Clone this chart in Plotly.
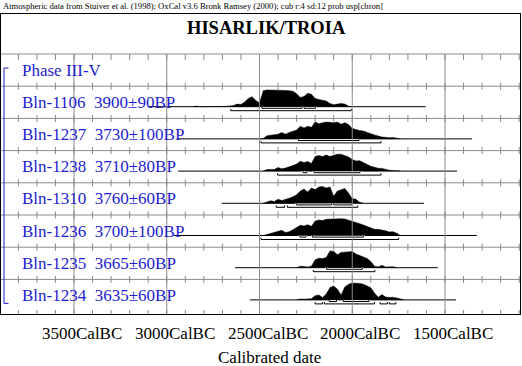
import plotly.graph_objects as go

# ---------------- data ----------------
header = "Atmospheric data from Stuiver et al. (1998); OxCal v3.6 Bronk Ramsey (2000); cub r:4 sd:12 prob usp[chron]"
title = "HISARLIK/TROIA"
phase_label = "Phase III-V"
sample_names = ["Bln-1106", "Bln-1237", "Bln-1238", "Bln-1310", "Bln-1236", "Bln-1235", "Bln-1234"]
sample_bp = ["3900±90BP", "3730±100BP", "3710±80BP", "3760±60BP", "3700±100BP", "3665±60BP", "3635±60BP"]

tick_years_bc = [3500, 3000, 2500, 2000, 1500]
tick_labels = ["3500CalBC", "3000CalBC", "2500CalBC", "2000CalBC", "1500CalBC"]
minor_step = 100
axis_title = "Calibrated date"

# calibrated extent of each sample (years BC)
extent_from = [3100, 2946, 2939, 2704, 2961, 2632, 2551]
extent_to = [1604, 1354, 1435, 1613, 1329, 1538, 1441]

# probability distributions (relative), sampled every 20 years starting at start year BC
step_years = 20
start_1106 = 2860
prob_1106 = [0, 0.6, 0, 0, 0, 0, 0, 0, 0, 0.3, 0.8, 1.2, 2.5, 2.2, 4.5, 8, 9.7, 6, 3.5,
             15.5, 16.3, 16.3, 16, 16, 16, 15.8, 15.5, 15, 12.5, 9, 10, 13, 12, 8, 7, 6,
             5.5, 3, 2, 2.5, 3, 2.5, 0.5, 0]
start_1237 = 2500
prob_1237 = [0, 0.3, 3, 3.5, 3.8, 4.5, 6, 4.5, 6, 7, 8.5, 12, 10.5, 12, 11, 16, 14.5, 15.3,
             16, 15.8, 15.3, 16, 14, 15.3, 13.7, 10, 8.7, 8, 7.5, 6, 5, 3.8, 2.5, 1.8, 1.5,
             1, 1.3, 0.3, 0]
start_1238 = 2480
prob_1238 = [0, 1.5, 1.7, 1.7, 3.5, 2.3, 3, 4, 5.5, 7, 9.7, 8.5, 9.5, 7.5, 14.5, 15.5, 14.5,
             16, 14.5, 15.7, 16.7, 16.7, 15.7, 14, 11.5, 10, 10.3, 8.5, 6.5, 4.8, 3.8, 2.8,
             2.7, 1.5, 0.8, 0.6, 0.6, 0]
start_1310 = 2480
prob_1310 = [0, 1, 2.5, 1.8, 4, 2.7, 3.5, 5, 6.5, 8.3, 12, 14, 11, 15, 13.5, 16, 16.5, 15,
             16, 7, 12, 13.5, 14.5, 10, 4.5, 4, 1, 0]
start_1236 = 2480
prob_1236 = [0, 1, 2, 2.5, 4.2, 5, 3, 3.7, 5.5, 7.5, 10, 9.3, 10.5, 9, 14, 15, 14.5, 15.7,
             16, 16.3, 16.3, 16.3, 16, 15, 13.8, 12.5, 11.5, 10.2, 9, 7.5, 6, 6, 5.5, 4.5,
             3.5, 3.7, 2.2, 0]
start_1235 = 2300
prob_1235 = [0, 1.5, 1.2, 0.7, 1.5, 7.8, 9.3, 9, 10, 16.5, 16, 12.8, 15, 15.5, 15.5, 15.8,
             13.5, 11.8, 10.3, 9, 6, 1.5, 0.8, 2.3, 0.7, 0.8, 1, 0]
start_1234 = 2300
prob_1234 = [0, 1, 0.7, 0.8, 1.2, 4.3, 5, 2.5, 6, 12.7, 14.3, 11, 5, 13.3, 16, 17.3, 17.3,
             17, 16.2, 14.5, 12.5, 7, 2.8, 5.5, 3, 2.5, 2.8, 2, 1, 0]

dist_starts = [start_1106, start_1237, start_1238, start_1310, start_1236, start_1235, start_1234]
dist_probs = [prob_1106, prob_1237, prob_1238, prob_1310, prob_1236, prob_1235, prob_1234]

# highest probability ranges (years BC)
range68 = [[(2487, 2271), (2260, 2197)],
           [(2291, 1964)],
           [(2265, 2244), (2206, 1958)],
           [(2300, 2110), (2100, 2005)],
           [(2282, 2250), (2215, 1940)],
           [(2138, 1946)],
           [(2125, 2085), (2050, 1910)]]
range95 = [[(2655, 2005)],
           [(2492, 1845)],
           [(2402, 1845)],
           [(2410, 2365), (2350, 1970)],
           [(2492, 1750)],
           [(2210, 1878)],
           [(2200, 2160), (2150, 1880), (1850, 1810), (1800, 1765)]]

# ---------------- layout geometry (pixels) ----------------
W, H = 522, 366
PL, PR, PT, PB = 1, 520, 14, 314          # plot-area frame in page pixels
PX_PER_YEAR = 92.75 / 500.0
REF_PX = 74                               # page x of 3500 BC
ROW0 = 54
ROW_H = 32.2
PEAK = 16.8
BLUE = "#1e1ed0"
GRID = "#8a8a8a"
FONT = "Liberation Serif, Times New Roman, serif"


def xv(year_bc):
    return -year_bc


def px2x(px):
    return -3500 + (px - REF_PX) / PX_PER_YEAR


def yv(py):
    return py - PT


def paper_x(px):
    return (px - PL) / (PR - PL)


def paper_y(py):
    return (PB - py) / (PB - PT)


xmin, xmax = px2x(PL), px2x(PR)

fig = go.Figure()

# distributions, baselines and ranges
for k in range(len(sample_names)):
    top = ROW0 + ROW_H * (k + 1)
    base = top + 20.5
    probs = dist_probs[k]
    pmax = max(probs)
    years = [dist_starts[k] - step_years * j for j in range(len(probs))]
    xs = [xv(years[0])] + [xv(y) for y in years] + [xv(years[-1])]
    ys = [yv(base)] + [yv(base - p / pmax * PEAK) for p in probs] + [yv(base)]
    fig.add_trace(go.Scatter(x=xs, y=ys, mode="lines", fill="toself", fillcolor="black",
                             line=dict(color="black", width=0.5), hoverinfo="skip"))
    fig.add_trace(go.Scatter(x=[xv(extent_from[k]), xv(extent_to[k])], y=[yv(base)] * 2,
                             mode="lines", line=dict(color="black", width=1), hoverinfo="skip"))
    # 68% ranges with white halo
    bx, by = [], []
    for a, b in range68[k]:
        bx += [xv(a), xv(a), xv(b), xv(b), None]
        by += [yv(base), yv(base + 1.6), yv(base + 1.6), yv(base), None]
    fig.add_trace(go.Scatter(x=bx, y=by, mode="lines", line=dict(color="white", width=2.6),
                             hoverinfo="skip"))
    fig.add_trace(go.Scatter(x=bx, y=by, mode="lines", line=dict(color="black", width=1),
                             hoverinfo="skip"))
    bx, by = [], []
    for a, b in range95[k]:
        bx += [xv(a), xv(a), xv(b), xv(b), None]
        by += [yv(base + 2.2), yv(base + 4), yv(base + 4), yv(base + 2.2), None]
    fig.add_trace(go.Scatter(x=bx, y=by, mode="lines", line=dict(color="black", width=1),
                             hoverinfo="skip"))

# grid: vertical major lines, horizontal row lines, minor ticks
gx, gy = [], []
for t in tick_years_bc:
    gx += [xv(t), xv(t), None]
    gy += [yv(ROW0), yv(PB), None]
n_rows = len(sample_names) + 1
for i in range(n_rows):
    py = ROW0 + ROW_H * i
    gx += [xmin, xmax, None]
    gy += [yv(py), yv(py), None]
first_minor = 3800
minor_years = list(range(first_minor, 1000, -minor_step))
for i in range(n_rows + 1):
    py = ROW0 + ROW_H * i
    if i == 0:
        y0, y1 = py, py + 6
    elif i == n_rows:
        y0, y1 = PB - 4, PB
    else:
        y0, y1 = py - 3.5, py + 3.5
    for m in minor_years:
        if xmin < xv(m) < xmax:
            gx += [xv(m), xv(m), None]
            gy += [yv(y0), yv(y1), None]
fig.add_trace(go.Scatter(x=gx, y=gy, mode="lines", line=dict(color=GRID, width=1),
                         hoverinfo="skip"))

# phase bracket
b_top = ROW0 + 14
b_bot = ROW0 + ROW_H * len(sample_names) + 24
fig.add_trace(go.Scatter(x=[px2x(8.5), px2x(4), px2x(4), px2x(8.5)],
                         y=[yv(b_top), yv(b_top), yv(b_bot), yv(b_bot)],
                         mode="lines", line=dict(color=BLUE, width=1), hoverinfo="skip"))

ann = []
ann.append(dict(text=header, xref="paper", yref="paper", x=paper_x(2), y=paper_y(6),
                xanchor="left", yanchor="middle", showarrow=False, borderpad=0,
                font=dict(family=FONT, size=8.6, color="black")))
ann.append(dict(text="<b>" + title + "</b>", xref="paper", yref="paper", x=paper_x(266),
                y=paper_y(28), xanchor="center", yanchor="middle", showarrow=False,
                borderpad=0, font=dict(family=FONT, size=18.5, color="black")))
ann.append(dict(text=phase_label, xref="paper", yref="paper", x=paper_x(21),
                y=paper_y(ROW0 + 16), xanchor="left", yanchor="middle", showarrow=False,
                borderpad=0, font=dict(family=FONT, size=17, color=BLUE)))
for k in range(len(sample_names)):
    top = ROW0 + ROW_H * (k + 1)
    ann.append(dict(text=sample_names[k] + "\u00a0\u00a0" + sample_bp[k], xref="paper",
                    yref="paper", x=paper_x(21), y=paper_y(top + 16), xanchor="left",
                    yanchor="middle", showarrow=False, borderpad=0,
                    font=dict(family=FONT, size=17, color=BLUE)))
for t, lab in zip(tick_years_bc, tick_labels):
    ann.append(dict(text=lab, xref="x", yref="paper", x=xv(t), xshift=8, y=paper_y(333),
                    xanchor="center", yanchor="middle", showarrow=False, borderpad=0,
                    font=dict(family=FONT, size=17, color="black")))
ann.append(dict(text=axis_title, xref="paper", yref="paper", x=paper_x(270), y=paper_y(357.5),
                xanchor="center", yanchor="middle", showarrow=False, borderpad=0,
                font=dict(family=FONT, size=17, color="black")))

fig.update_layout(
    width=W, height=H, autosize=False,
    margin=dict(l=PL, r=W - PR, t=PT, b=H - PB, pad=0),
    paper_bgcolor="white", plot_bgcolor="white", showlegend=False,
    annotations=ann,
    xaxis=dict(range=[xmin, xmax], showgrid=False, zeroline=False, showticklabels=False,
               ticks="", showline=True, mirror=True, linecolor="black", linewidth=1,
               fixedrange=True),
    yaxis=dict(range=[PB - PT, 0], showgrid=False, zeroline=False, showticklabels=False,
               ticks="", showline=True, mirror=True, linecolor="black", linewidth=1,
               fixedrange=True),
)

fig.write_html("out.html", config={"displayModeBar": False},
               post_script="document.body.style.margin='0';document.body.style.overflow='hidden';")
